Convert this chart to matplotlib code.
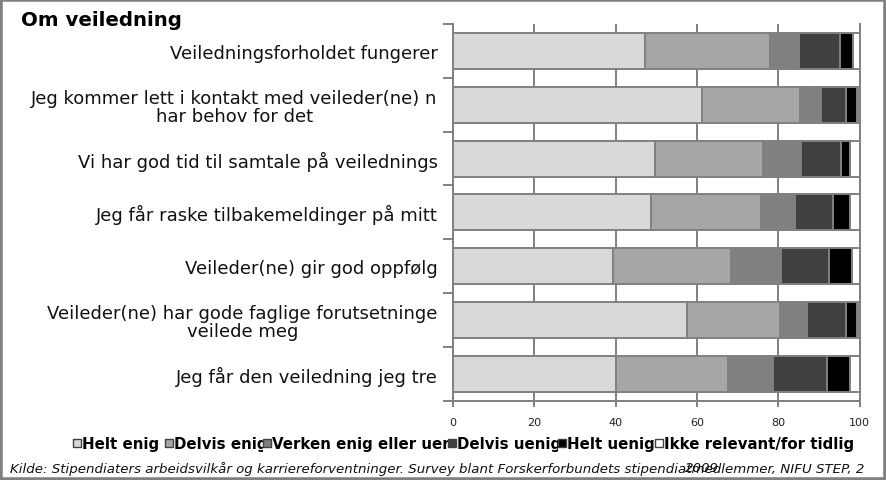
import matplotlib
matplotlib.use("Agg")
import matplotlib.pyplot as plt
import numpy as np
from matplotlib.patches import Rectangle
from matplotlib.transforms import Bbox

categories = [
    "Veiledningsforholdet fungerer",
    "Jeg kommer lett i kontakt med veileder(ne) n\nhar behov for det",
    "Vi har god tid til samtale på veilednings",
    "Jeg får raske tilbakemeldinger på mitt",
    "Veileder(ne) gir god oppfølg",
    "Veileder(ne) har gode faglige forutsetninge\nveilede meg",
    "Jeg får den veiledning jeg tre",
]
series_names = ["Helt enig", "Delvis enig", "Verken enig eller uenig",
                "Delvis uenig", "Helt uenig", "Ikke relevant/for tidlig"]
helt_enig     = [47.3, 61.3, 49.8, 48.8, 39.3, 57.5, 40.0]
delvis_enig   = [30.7, 24.1, 26.4, 26.9, 29.1, 23.0, 27.7]
verken        = [7.2, 5.1, 9.4, 8.4, 12.2, 6.5, 11.0]
delvis_uenig  = [9.9, 6.1, 9.8, 9.3, 11.9, 9.6, 13.4]
helt_uenig    = [3.4, 2.8, 2.3, 4.3, 5.6, 2.8, 5.6]
ikke_relevant = [1.5, 0.6, 2.3, 2.3, 1.9, 0.6, 2.3]
xticks = [0, 20, 40, 60, 80, 100]
title = "Om veiledning"
source = ("Kilde: Stipendiaters arbeidsvilkår og karriereforventninger. "
          "Survey blant Forskerforbundets stipendiatmedlemmer, NIFU STEP, 2")

colors = ["#d9d9d9", "#a6a6a6", "#808080", "#404040", "#000000", "#ffffff"]
grey = "#808080"

W, H = 886, 481
fig = plt.figure(figsize=(W / 100, H / 100), dpi=100)
ax = fig.add_axes([453 / W, 1 - 401.7 / H, (859.5 - 453) / W, (401.7 - 25) / H])

data = [helt_enig, delvis_enig, verken, delvis_uenig, helt_uenig, ikke_relevant]
y = np.arange(len(categories))
left = np.zeros(len(categories))
for vals, c in zip(data, colors):
    ax.barh(y, vals, left=left, height=0.67, color=c, edgecolor=grey,
            linewidth=1.4, zorder=3)
    left += np.array(vals)

ax.set_xlim(0, 100)
ax.set_ylim(len(categories) - 0.5, -0.5)
ax.set_xticks(xticks)
ax.set_xticklabels([str(v) for v in xticks], fontsize=8, color="#222222")
ax.set_yticks(y)
ax.set_yticklabels(categories, fontsize=13, ha="right", multialignment="center",
                   color="#111111", linespacing=1.0)
ax.set_yticks(np.arange(-0.5, len(categories), 1), minor=True)
ax.tick_params(axis="y", which="major", length=0, pad=11)
ax.tick_params(axis="y", which="minor", length=7, width=1.4, color=grey)
ax.tick_params(axis="x", length=4, width=1.4, color=grey, pad=8)
ax.xaxis.grid(True, color=grey, linewidth=1.4, zorder=0)
ax.set_axisbelow(True)
ax.spines["top"].set_visible(False)
for s in ["left", "bottom", "right"]:
    ax.spines[s].set_color(grey)
    ax.spines[s].set_linewidth(1.4)

fig.text(21 / W, 1 - 20 / H, title, fontsize=14.2, fontweight="bold",
         va="center", ha="left")

# legend (manual, items clipped like the reference)
marker_x = [73, 165, 263, 448, 558, 655]
clip_right = [165, 263, 448, 558, 655, 870]
ly = 444
for name, c, mx, cr in zip(series_names, colors, marker_x, clip_right):
    fig.patches.append(Rectangle((mx / W, (H - ly - 4) / H), 8 / W, 8 / H,
                                 transform=fig.transFigure, facecolor=c,
                                 edgecolor="#404040", linewidth=1.0))
    t = fig.text((mx + 9) / W, 1 - ly / H, name, fontsize=10.8,
                 fontweight="bold", va="center", ha="left")
    t.set_clip_box(Bbox([[mx + 8, 0], [cr, H]]))
    t.set_clip_on(True)

fig.text(10 / W, 1 - 469 / H, source, fontsize=9.65, style="italic",
         va="center", ha="left", color="#111111")
fig.text(685 / W, 1 - 469 / H, "2009", fontsize=9.65, style="italic",
         va="center", ha="left", color="#111111")

fig.patches.append(Rectangle((0, 0), 1, 1, transform=fig.transFigure,
                             fill=False, edgecolor=grey, linewidth=4))

fig.savefig("out.png", dpi=100)
